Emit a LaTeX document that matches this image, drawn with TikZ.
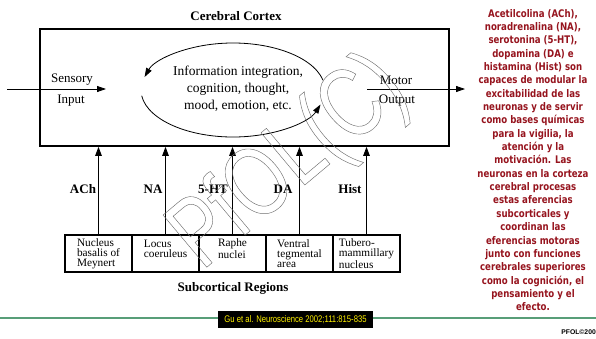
\documentclass[tikz,border=0pt]{standalone}
\usepackage{fontspec}
\setmainfont{Liberation Serif}
\newfontfamily\notefont[FakeStretch=0.82]{DejaVu Sans}
\newfontfamily\citefont[FakeStretch=0.8]{Liberation Sans}
\newfontfamily\wmfont[FakeStretch=0.75]{Liberation Sans}
\newfontfamily\pfolfont{Liberation Sans}
\usetikzlibrary{arrows.meta,calc}
\definecolor{noteRed}{RGB}{150,20,30}
\definecolor{lineGreen}{RGB}{88,158,120}
\definecolor{wmGray}{RGB}{110,110,110}
\newcommand\outlinetxt[1]{\special{pdf:code 1 Tr 0.45 w}#1\special{pdf:code 0 Tr}}
\begin{document}
\begin{tikzpicture}[x=1pt,y=-1pt,
  frame/.style={draw, line width=1.6pt, inner sep=0pt},
  subbox/.style={frame, minimum width=67pt, minimum height=37pt, align=left,
    font=\fontsize{11.3}{10}\selectfont},
  arr/.style={line width=0.9pt, -{Triangle[length=9pt,width=6.5pt]}},
  thinarr/.style={line width=0.8pt, -{Triangle[length=9pt,width=6pt]}},
  lbl/.style={font=\fontsize{13}{13}\selectfont, inner sep=0pt},
  blbl/.style={font=\fontsize{13}{13}\selectfont\bfseries, inner sep=0pt}]
\useasboundingbox (0,0) rectangle (596,338);

% title and cortex box
\node[blbl] (title) at (236,16) {Cerebral Cortex};
\node[frame, minimum width=409pt, minimum height=117pt] (cortex) at (244.5,87.5) {};

% loop text and arcs
\node[align=center, font=\fontsize{13.5}{17}\selectfont, inner sep=0pt] (info) at (238,89)
  {Information integration,\\cognition, thought,\\mood, emotion, etc.};
\coordinate (ec) at (233,90);
\draw[thinarr] ($(ec)+(-12:92 and 47)$) arc[start angle=-12, end angle=-164, x radius=92, y radius=47];
\draw[thinarr] ($(ec)+(173:92 and 47)$) arc[start angle=173, end angle=18, x radius=92, y radius=47];

% sensory input
\node[lbl] (sens) at (72,80) {Sensory};
\node[lbl] (inp) at (71,101) {Input};
\coordinate (s0) at (7,89);
\coordinate (s1) at (106,89);
\draw[thinarr] (s0) -- (s1);

% motor output
\node[lbl] (motor) at (396,80) {Motor};
\node[lbl] (outp) at (397,101) {Output};
\coordinate (m0) at (367,89);
\coordinate (m1) at (465,89);
\draw[thinarr] (m0) -- (m1);

% subcortical boxes
\node[subbox] (b1) at (98.5,253.5) {Nucleus\\basalis of\\Meynert};
\node[subbox] (b2) at (165.5,253.5) {Locus\\coeruleus\\~};
\node[subbox] (b3) at (232.5,253.5) {Raphe\\nuclei\\~};
\node[subbox] (b4) at (299.5,253.5) {Ventral\\tegmental\\area};
\node[subbox] (b5) at (366.5,253.5) {Tubero-\\mammillary\\nucleus};

\foreach \b in {b1,b2,b3,b4,b5}
  \draw[arr] (\b.north) -- (\b.north |- cortex.south);

\node[blbl] (ach) at (83,189) {ACh};
\node[blbl] (na) at (153,189) {NA};
\node[blbl] (ht) at (213,189) {5-HT};
\node[blbl] (da) at (283,189) {DA};
\node[blbl] (hist) at (350,189) {Hist};

\node[blbl] (sub) at (233,288) {Subcortical Regions};

% bottom line and citation
\coordinate (g0) at (0,318);
\coordinate (g1) at (596,318);
\draw[lineGreen, line width=2.6pt] (g0) -- (g1);
\node[fill=black, text=yellow, minimum width=155pt, minimum height=17pt, inner sep=0pt,
  font=\citefont\fontsize{9.6}{10}\selectfont] (cite) at (295.5,319.5)
  {Gu et al. Neuroscience 2002;111:815-835};

\node[anchor=east, inner sep=0pt, font=\pfolfont\bfseries\fontsize{6.8}{7}\selectfont] (pfol) at (596,332) {PFOL©200};

% right-hand note
\node[align=center, text=noteRed, inner sep=0pt,
  font=\notefont\bfseries\fontsize{10.5}{13.35}\selectfont] (note) at (533,160)
  {Acetilcolina (ACh),\\noradrenalina (NA),\\serotonina (5-HT),\\dopamina (DA) e\\
   histamina (Hist) son\\capaces de modular la\\excitabilidad de las\\neuronas y de servir\\
   como bases químicas\\para la vigilia, la\\atención y la\\motivación. Las\\
   neuronas en la corteza\\cerebral procesas\\estas aferencias\\subcorticales y\\
   coordinan las\\eferencias motoras\\junto con funciones\\cerebrales superiores\\
   como la cognición, el\\pensamiento y el\\efecto.};

% watermark
\node[rotate=40, text=wmGray, inner sep=0pt, font=\wmfont\fontsize{99}{99}\selectfont] (wm) at (290,164)
  {\outlinetxt{PfOL(C)}};
\end{tikzpicture}
\end{document}
